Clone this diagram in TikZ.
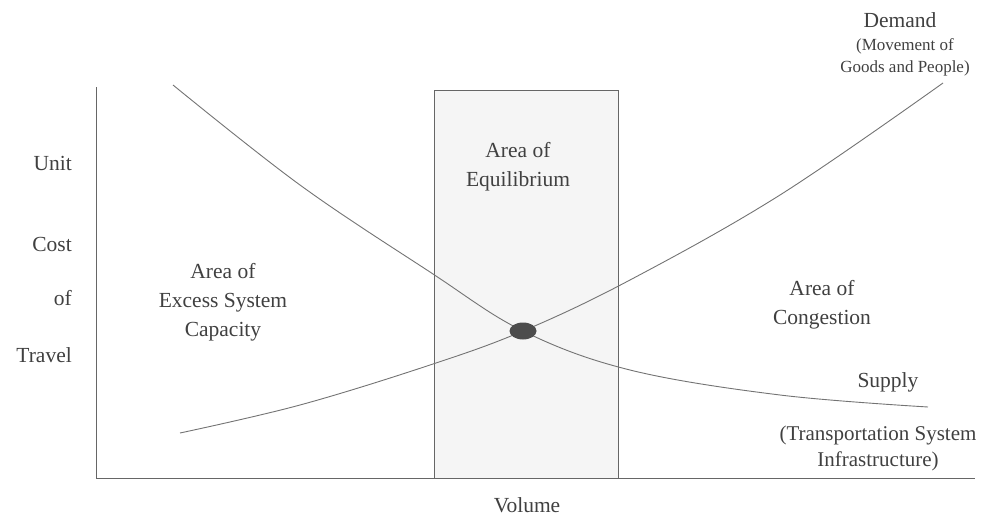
\documentclass[tikz,border=0pt]{standalone}
\usepackage{fontspec}
\setmainfont{Liberation Serif}
\usetikzlibrary{shapes.geometric}
\begin{document}
\begin{tikzpicture}[x=1pt,y=-1pt,
  lbl/.style={text=black!75, font=\fontsize{21.5}{29}\selectfont, align=center, inner sep=0pt},
  lbltight/.style={text=black!75, font=\fontsize{21}{26}\selectfont, align=center, inner sep=0pt},
  small/.style={text=black!75, font=\fontsize{17}{22}\selectfont, align=center, inner sep=0pt},
  curve/.style={draw=black!55, line width=0.9pt},
  axis/.style={draw=black!60, line width=1pt}]
\useasboundingbox (0,0) rectangle (994,517);
% box
\node[draw=black!60, fill=black!4, line width=0.9pt, minimum width=184pt, minimum height=388pt, inner sep=0pt] (box) at (526,284) {};
% axes
\coordinate (o) at (96,478);
\coordinate (ytop) at (96,87);
\coordinate (xend) at (975,478);
\draw[axis] (ytop) -- (o) -- (xend);
% curves
\draw[curve] plot[smooth, tension=0.6] coordinates {(173,85) (300,185) (430,272) (523,331) (630,370) (780,395) (928,407)};
\draw[curve] plot[smooth, tension=0.6] coordinates {(180,433) (300,405) (430,365) (523,331) (630,280) (780,195) (943,83)};
% equilibrium point
\node[ellipse, fill=black!70, minimum width=27pt, minimum height=17pt, inner sep=0pt] (eq) at (523,331) {};
% labels
\node[lbl, anchor=east] (unit) at (72,163) {Unit};
\node[lbl, anchor=east] (cost) at (72,244) {Cost};
\node[lbl, anchor=east] (of) at (72,298) {of};
\node[lbl, anchor=east] (travel) at (72,355) {Travel};
\node[lbl] (excess) at (223,302) {Area of\\Excess System\\Capacity};
\node[lbl] (equil) at (518,167) {Area of\\Equilibrium};
\node[lbl] (cong) at (822,305) {Area of\\Congestion};
\node[lbl] (demand) at (900,20) {Demand};
\node[small] (move) at (905,57) {(Movement of\\Goods and People)};
\node[lbl] (supply) at (888,382) {Supply};
\node[lbltight] (infra) at (878,448) {(Transportation System\\Infrastructure)};
\node[lbl] (volume) at (527,505) {Volume};
\end{tikzpicture}
\end{document}
